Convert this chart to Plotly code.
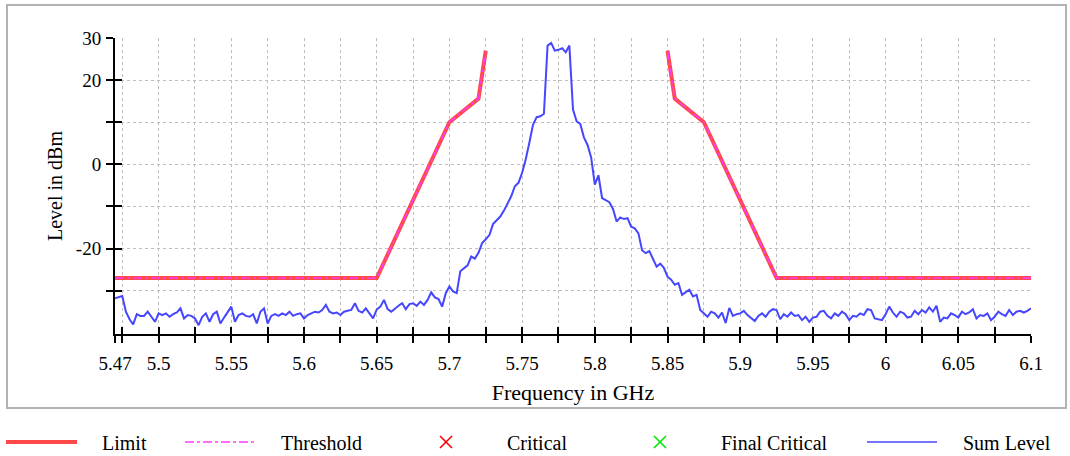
import plotly.graph_objects as go

# ---------------- data ----------------
limit_freq = [5.47, 5.65, 5.70, 5.72, 5.725, None, 5.85, 5.855, 5.875, 5.925, 6.10]
limit_level = [-27, -27, 10, 15.6, 27, None, 27, 15.6, 10, -27, -27]

threshold_freq = [5.47, 5.65, 5.70, 5.72, 5.725, None, 5.85, 5.855, 5.875, 5.925, 6.10]
threshold_level = [-27, -27, 10, 15.6, 27, None, 27, 15.6, 10, -27, -27]

sum_start_ghz = 5.47
sum_step_ghz = 0.0025
sum_level = [
    -31.8, -31.6, -31.3, -35.0, -36.8, -38.0, -35.6, -36.0, -36.0, -35.0,
    -36.2, -37.4, -35.4, -35.8, -35.4, -36.2, -35.6, -35.2, -34.2, -36.6,
    -35.8, -36.0, -36.6, -38.2, -36.2, -35.4, -37.4, -35.6, -35.0, -37.8,
    -36.4, -35.2, -33.8, -37.4, -35.8, -35.4, -36.0, -36.2, -35.6, -37.8,
    -35.0, -34.2, -37.8, -36.0, -35.6, -36.0, -35.4, -35.8, -35.0, -36.0,
    -35.6, -35.4, -36.6, -35.8, -35.4, -35.0, -35.2, -34.6, -33.4, -35.0,
    -35.4, -35.2, -35.8, -35.0, -34.8, -34.6, -33.0, -34.8, -35.2, -34.2,
    -35.4, -36.6, -34.5, -33.8, -32.2, -34.4, -35.0, -34.2, -33.6, -33.0,
    -34.4, -33.2, -33.0, -33.6, -32.6, -33.4, -32.2, -30.4, -31.6, -32.0,
    -33.8, -30.6, -29.0, -30.2, -30.6, -25.4, -24.8, -24.0, -21.9, -22.4,
    -21.0, -18.7, -17.8, -16.8, -14.2, -13.4, -12.4, -11.0, -9.2, -7.6,
    -5.2, -4.4, -2.0, 1.2, 5.2, 9.4, 11.2, 11.4, 12.0, 28.2,
    28.8, 27.0, 27.2, 27.6, 26.6, 28.2, 13.0, 10.2, 9.6, 6.4,
    4.6, 1.6, -4.8, -2.6, -8.0, -8.6, -9.0, -10.6, -13.6, -12.6,
    -13.0, -12.8, -14.8, -15.2, -16.4, -20.4, -21.1, -20.6, -22.4, -24.3,
    -23.6, -24.6, -26.7, -27.4, -28.6, -28.2, -31.0, -30.4, -29.8, -31.4,
    -31.0, -34.6, -35.4, -36.2, -35.0, -35.4, -36.4, -35.2, -37.7, -34.1,
    -36.0, -35.6, -35.4, -34.8, -35.8, -36.4, -37.2, -36.0, -35.4, -36.2,
    -35.0, -34.4, -34.6, -36.8, -35.6, -36.2, -35.2, -36.0, -35.8, -37.0,
    -36.2, -37.4, -36.4, -36.2, -35.0, -34.8, -36.0, -36.6, -35.4, -36.0,
    -35.0, -35.6, -37.0, -36.0, -36.2, -35.4, -35.8, -34.4, -34.6, -36.6,
    -36.8, -37.0, -35.6, -33.8, -35.2, -36.2, -35.0, -35.4, -36.4, -36.2,
    -34.8, -35.6, -34.6, -35.2, -34.0, -35.0, -33.6, -37.4, -36.4, -36.6,
    -35.4, -35.8, -36.4, -35.0, -35.6, -35.2, -34.4, -36.6, -35.8, -36.0,
    -35.4, -37.0, -36.2, -35.0, -35.6, -36.0, -34.6, -35.8, -35.0, -34.8,
    -35.2, -34.8, -34.2,
]
sum_freq = [round(sum_start_ghz + i * sum_step_ghz, 4) for i in range(len(sum_level))]

x_tick_vals = [5.47] + [round(5.475 + 0.025 * k, 3) for k in range(26)]
x_tick_text = ["5.47", ""] + [("" if k % 2 == 0 else f"{5.475 + 0.025 * k:g}") for k in range(1, 26)]
y_tick_vals = [-30, -20, -10, 0, 10, 20, 30]
y_tick_text = ["", "-20", "", "0", "", "20", "30"]

legend_names = ["Limit", "Threshold", "Critical", "Final Critical", "Sum Level"]

# ---------------- styling ----------------
FONT = "Liberation Serif, Times New Roman, serif"
RED = "rgb(255,72,72)"
MAGENTA = "rgb(255,60,255)"
BLUE = "rgb(70,70,255)"

L, R, T, B = 115, 39, 38, 122
W, H = 1070, 456
PW, PH = W - L - R, H - T - B


def px(xp):
    return (xp - L) / PW


def py(yp):
    return (H - B - yp) / PH


fig = go.Figure()
fig.add_trace(go.Scatter(x=limit_freq, y=limit_level, mode="lines", name="Limit",
                         line=dict(color=RED, width=4), showlegend=False))
fig.add_trace(go.Scatter(x=threshold_freq, y=threshold_level, mode="lines", name="Threshold",
                         line=dict(color=MAGENTA, width=1.5, dash="dashdot"), showlegend=False))
fig.add_trace(go.Scatter(x=sum_freq, y=sum_level, mode="lines", name="Sum Level",
                         line=dict(color=BLUE, width=2), showlegend=False))
# overlay axes carry the inward half of the crossing ticks
fig.add_trace(go.Scatter(x=[], y=[], xaxis="x2", yaxis="y2", showlegend=False, hoverinfo="skip"))

common_tick = dict(tickfont=dict(family=FONT, size=19, color="black"))

fig.update_layout(
    width=W, height=H,
    margin=dict(l=L, r=R, t=T, b=B),
    paper_bgcolor="white", plot_bgcolor="white",
    font=dict(family=FONT, size=19, color="black"),
    xaxis=dict(range=[5.47, 6.1], tickmode="array", tickvals=x_tick_vals, ticktext=x_tick_text,
               ticks="outside", ticklen=7, tickwidth=2, tickcolor="black",
               showline=True, linecolor="black", linewidth=2,
               showgrid=True, gridcolor="#bdbdbd", griddash="dot", gridwidth=1,
               zeroline=False, ticklabelstandoff=4,
               title=dict(text="Frequency in GHz", font=dict(family=FONT, size=22), standoff=12),
               **common_tick),
    yaxis=dict(range=[-40.3, 30], tickmode="array", tickvals=y_tick_vals, ticktext=y_tick_text,
               ticks="outside", ticklen=7, tickwidth=2, tickcolor="black",
               showline=True, linecolor="black", linewidth=2,
               showgrid=True, gridcolor="#bdbdbd", griddash="dot", gridwidth=1,
               zeroline=False, ticklabelstandoff=1,
               title=dict(text="Level in dBm", font=dict(family=FONT, size=20), standoff=8),
               **common_tick),
    xaxis2=dict(overlaying="x", matches="x", anchor="y2", tickmode="array", tickvals=x_tick_vals,
                ticks="inside", ticklen=7, tickwidth=2, tickcolor="black",
                showticklabels=False, showgrid=False, showline=False, zeroline=False),
    yaxis2=dict(overlaying="y", matches="y", anchor="x2", tickmode="array", tickvals=y_tick_vals,
                ticks="inside", ticklen=7, tickwidth=2, tickcolor="black",
                showticklabels=False, showgrid=False, showline=False, zeroline=False),
    showlegend=False,
)

shapes = []
# outer frame
shapes.append(dict(type="rect", xref="paper", yref="paper",
                   x0=px(7), x1=px(1066), y0=py(408), y1=py(5),
                   line=dict(color="#b3b3b3", width=2), fillcolor="rgba(0,0,0,0)", layer="below"))

ly = 442
# legend samples
shapes.append(dict(type="line", xref="paper", yref="paper", x0=px(6), x1=px(77), y0=py(ly), y1=py(ly),
                   line=dict(color=RED, width=4)))
shapes.append(dict(type="line", xref="paper", yref="paper", x0=px(185), x1=px(256), y0=py(ly), y1=py(ly),
                   line=dict(color=MAGENTA, width=1.5, dash="dashdot")))
shapes.append(dict(type="line", xref="paper", yref="paper", x0=px(867), x1=px(937), y0=py(ly), y1=py(ly),
                   line=dict(color=BLUE, width=1.6)))
for cx, col in [(446, "rgb(255,0,0)"), (660, "rgb(0,230,0)")]:
    for s in (1, -1):
        shapes.append(dict(type="line", xref="paper", yref="paper",
                           x0=px(cx - 6), x1=px(cx + 6), y0=py(ly - 6 * s), y1=py(ly + 6 * s),
                           line=dict(color=col, width=1.6)))
fig.update_layout(shapes=shapes)

annotations = []
for name, tx in zip(legend_names, [100, 279, 505, 719, 961]):
    annotations.append(dict(text=name, xref="paper", yref="paper", x=px(tx), y=py(ly + 1),
                            xanchor="left", yanchor="middle", showarrow=False,
                            font=dict(family=FONT, size=20, color="black")))
fig.update_layout(annotations=annotations)

fig.write_html("out.html", config={"displayModeBar": False},
               post_script="document.body.style.margin='0px';")
